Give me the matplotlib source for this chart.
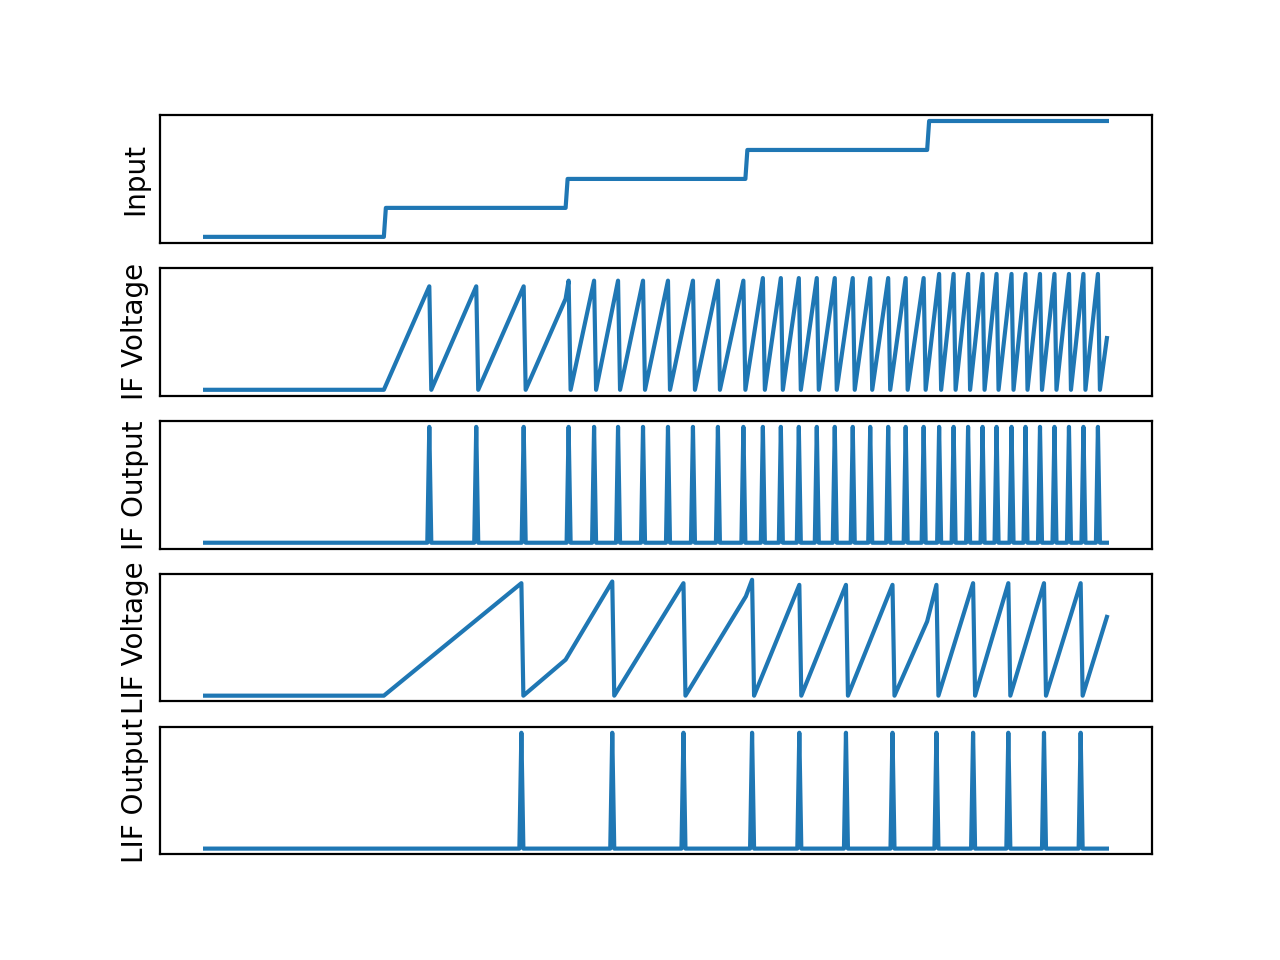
import numpy as np
import matplotlib
matplotlib.use("Agg")
import matplotlib.pyplot as plt

# time axis (arbitrary steps), input current switched on in stages
input_edges = [0, 179, 361, 541, 723, 903]
input_levels = [0, 1, 2, 3, 4]

# IF neuron: spike times and membrane voltage at each spike
if_spike_t = [224.5, 271.5, 319,
              364, 389.5, 413.5, 438.5, 463.5, 488.5, 513.5, 539,
              558.5, 576.5, 594.5, 612.5, 630.5, 648.5, 666, 684, 701.5, 719.5,
              735, 749.5, 764, 778.5, 792.5, 807.5, 821.5, 836, 850.5, 865, 879.5, 894]
if_peak_v = [1.0] * 3 + [1.055] * 8 + [1.08] * 10 + [1.12] * 12
if_bend_t = [361]
if_bend_v = [0.88]
if_end_v = 0.50

# LIF neuron
lif_spike_t = [316.7, 407.7, 479, 547.7, 595, 641.7, 688.3, 732.3, 769, 804.3, 840, 876.7]
lif_peak_v = [1.0, 1.015, 1.0, 1.03, 0.985, 0.985, 0.985, 0.985, 1.0, 1.0, 1.0, 1.0]
lif_bend_t = [361, 541.5, 723]
lif_bend_v = [0.32, 0.883, 0.66]
lif_end_v = 0.70

dt = 2  # one sample


def step_input():
    pts = [(input_edges[0], input_levels[0])]
    for i in range(1, len(input_levels)):
        pts.append((input_edges[i], input_levels[i - 1]))
        pts.append((input_edges[i] + dt, input_levels[i]))
    pts.append((input_edges[-1], input_levels[-1]))
    return [p[0] for p in pts], [p[1] for p in pts]


def voltage(spk, peak, bend_t, bend_v, end_v):
    pts = [(0, 0), (input_edges[1], 0)]
    pts += list(zip(spk, peak))
    pts += [(t + dt, 0) for t in spk]
    pts += list(zip(bend_t, bend_v))
    pts.append((input_edges[-1], end_v))
    pts.sort()
    return [p[0] for p in pts], [p[1] for p in pts]


def output(spk):
    pts = [(0, 0)]
    for t in spk:
        pts += [(t - dt, 0), (t, 1), (t + dt, 0)]
    pts.append((input_edges[-1], 0))
    return [p[0] for p in pts], [p[1] for p in pts]


fig, axs = plt.subplots(5, 1, figsize=(6.4, 4.8), dpi=200)

axs[0].plot(*step_input())
axs[0].set_ylabel('Input')
axs[1].plot(*voltage(if_spike_t, if_peak_v, if_bend_t, if_bend_v, if_end_v))
axs[1].set_ylabel('IF Voltage')
axs[2].plot(*output(if_spike_t))
axs[2].set_ylabel('IF Output')
axs[3].plot(*voltage(lif_spike_t, lif_peak_v, lif_bend_t, lif_bend_v, lif_end_v))
axs[3].set_ylabel('LIF Voltage')
axs[4].plot(*output(lif_spike_t))
axs[4].set_ylabel('LIF Output')

for ax in axs:
    ax.set_xticks([])
    ax.set_yticks([])

plt.savefig('out.png')
